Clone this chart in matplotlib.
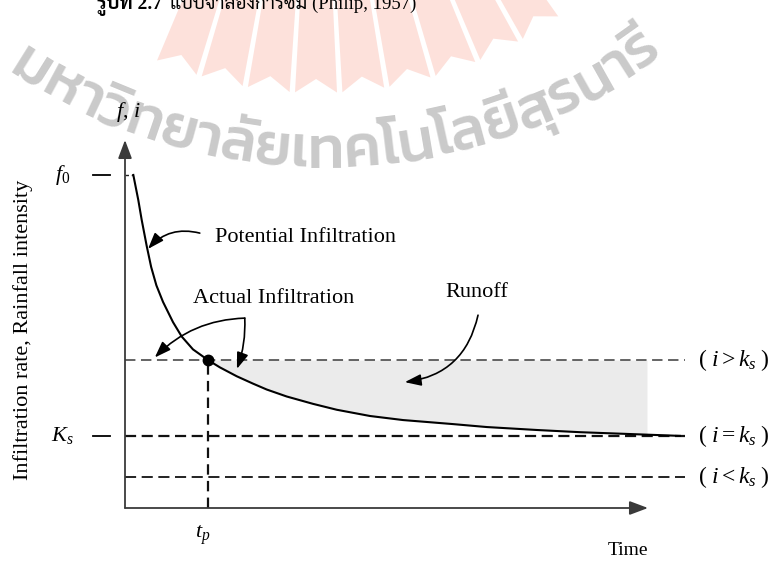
import numpy as np
import matplotlib
matplotlib.use("Agg")
import matplotlib.pyplot as plt
from matplotlib import font_manager
from matplotlib.font_manager import FontProperties
from matplotlib.patches import Polygon
from matplotlib.textpath import TextToPath

# ---------------------------------------------------------------- data
# Potential infiltration capacity f(t) (arbitrary units, time 0-100 on the axis)
time_pts = [1.59, 2.54, 3.19, 4.15, 5.0, 6.0, 7.27, 9.18, 10.84, 13.0, 15.87, 18.16, 21.36,
            24.47, 27.09, 30.92, 35.95, 40.48, 46.85, 53.15, 62.72, 69.16, 78.72, 87.0, 106.1]
f_pts = [90.5, 83.7, 78.3, 71.2, 65.5, 60.5, 56.0, 50.5, 46.6, 43.1, 40.2, 38.2, 35.8,
         33.8, 32.2, 30.3, 28.3, 26.7, 25.0, 23.9, 22.8, 22.0, 21.2, 20.6, 19.6]

f0 = 90.5          # initial infiltration capacity
Ks = 19.6          # saturated hydraulic conductivity
i_high = 40.2      # rainfall intensity above Ks
i_low = 8.4        # rainfall intensity below Ks
t_p = 15.87        # ponding time
runoff_end = 99.8  # end of the shaded runoff area
line_end = 107.1   # right end of the intensity lines

intensity_levels = [i_high, Ks, i_low]
intensity_labels = [r"$(\ i > k_s\;)$", r"$(\ i = k_s\;)$", r"$(\ i < k_s\;)$"]

watermark = "มหาวิทยาลัยเทคโนโลยีสุรนารี"
title_bold = "รูปที่ 2.7"
title_rest = "แบบจำลองการซึม (Philip, 1957)"

# ---------------------------------------------------------------- fonts
installed = {f.name for f in font_manager.fontManager.ttflist}


def first_installed(cands, fallback):
    for c in cands:
        if c in installed:
            return c
    return fallback


thai_sans = first_installed(["Kanit", "Prompt", "Mitr", "Noto Sans Thai", "Athiti"], "DejaVu Sans")
thai_serif = first_installed(["Sarabun", "Noto Serif Thai", "Taviraj", "Trirong"], thai_sans)
serif = "Liberation Serif"

plt.rcParams["lines.scale_dashes"] = False
plt.rcParams["mathtext.fontset"] = "custom"
plt.rcParams["mathtext.rm"] = serif
plt.rcParams["mathtext.it"] = serif + ":italic"
plt.rcParams["font.family"] = [serif, thai_serif]

W, H = 782, 561
fig = plt.figure(figsize=(W / 100, H / 100), dpi=100)

# ---------------------------------------------------------------- background (pixel frame)
bg = fig.add_axes([0, 0, 1, 1], zorder=0)
bg.set_xlim(0, W)
bg.set_ylim(H, 0)
bg.axis("off")

# pink ray emblem
cx, cy = 318.0, -322.0
r_out, notch, r_in = 415.0, 14.0, 250.0
pitch, gap = 6.55, 0.75
for k in range(-2, 7):
    a0 = np.radians(-10.1 + pitch * k + gap / 2)
    a1 = np.radians(-10.1 + pitch * (k + 1) - gap / 2)
    am = 0.5 * (a0 + a1)
    pts = [
        (cx + r_in * np.sin(a0), cy + r_in * np.cos(a0)),
        (cx + r_out * np.sin(a0), cy + r_out * np.cos(a0)),
        (cx + (r_out - notch) * np.sin(am), cy + (r_out - notch) * np.cos(am)),
        (cx + r_out * np.sin(a1), cy + r_out * np.cos(a1)),
        (cx + r_in * np.sin(a1), cy + r_in * np.cos(a1)),
    ]
    bg.add_patch(Polygon(pts, closed=True, fc="#fde1db", ec="none"))

# curved grey university name
combining = set(range(0x0E34, 0x0E3B)) | set(range(0x0E47, 0x0E4F)) | {0x0E31}
clusters = []
for ch in watermark:
    if clusters and ord(ch) in combining:
        clusters[-1] += ch
    else:
        clusters.append(ch)

wweight = "medium"
wprop = FontProperties(family=thai_sans, weight=wweight, size=10)
ttp = TextToPath()
adv = np.array([ttp.get_text_width_height_descent(c, wprop, ismath=False)[0] for c in clusters]) * 100 / 72
tcx, tcy, tR = 324.0, -398.0, 550.0
th_a, th_c = np.radians(-34.5), np.radians(37.5)
span_px = tR * (th_c - th_a) + 0.5 * (adv[0] + adv[-1])
scale = span_px / adv.sum()
wfs = 10 * scale
adv = adv * scale
centers = np.cumsum(adv) - adv / 2
mid = 0.5 * (th_a + th_c)
r_base = tR + 0.26 * wfs * 100 / 72
for c, s in zip(clusters, centers):
    th = mid + (s - adv.sum() / 2) / r_base
    bg.text(tcx + r_base * np.sin(th), tcy + r_base * np.cos(th), c,
            family=thai_sans, weight=wweight, fontsize=wfs, color="#cacaca",
            rotation=np.degrees(th), rotation_mode="anchor", ha="center", va="baseline")

# caption, cut by the top edge
bg.text(97, 9, title_bold, fontsize=14, weight="bold", ha="left", va="baseline",
        family=[serif, thai_serif], zorder=3)
bg.text(170, 9, title_rest, fontsize=13.5, ha="left", va="baseline",
        family=[serif, thai_serif], zorder=3)

# ---------------------------------------------------------------- diagram
L, R_, B, T = 125, 648, 508, 140
ax = fig.add_axes([L / W, 1 - B / H, (R_ - L) / W, (B - T) / H], zorder=1)
ax.set_xlim(0, 100)
ax.set_ylim(0, 100)
ax.axis("off")
ax.patch.set_alpha(0)

t = np.array(time_pts)
f = np.array(f_pts)

# runoff area between rainfall intensity and infiltration capacity
mask = (t >= t_p) & (t <= runoff_end)
xs = np.concatenate([t[mask], [runoff_end]])
ys = np.concatenate([f[mask], [np.interp(runoff_end, t, f)]])
ax.fill_between(xs, ys, i_high, color="#ebebeb", lw=0, zorder=1, clip_on=False)

# axes with arrow heads
for end in [(100, 0), (0, 100)]:
    ax.annotate("", xy=end, xytext=(0, 0), annotation_clip=False,
                arrowprops=dict(arrowstyle="-|>,head_length=0.8,head_width=0.3", lw=1.3,
                                color="#3a3a3a", shrinkA=0, shrinkB=0, mutation_scale=14))

# rainfall intensity lines
dash_styles = [dict(lw=1.1, color="#3a3a3a", dashes=(7.5, 4)),
               dict(lw=1.6, color="#111111", dashes=(8, 4)),
               dict(lw=1.4, color="#222222", dashes=(8, 4))]
for lvl, st, lab in zip(intensity_levels, dash_styles, intensity_labels):
    ax.plot([0, line_end], [lvl, lvl], clip_on=False, zorder=2, **st)
    ax.text(line_end + 2.4, lvl, lab, fontsize=17, ha="left", va="center")

# ponding time
ax.plot([t_p, t_p], [0, i_high], color="#111111", lw=1.6, dashes=(7.5, 4.5), zorder=2)

# infiltration capacity curve
ax.plot([0, t[0]], [f0, f0], color="#222222", lw=1.0, dashes=(2.5, 2), clip_on=False)
ax.plot(t, f, color="black", lw=1.5, clip_on=False, zorder=3, solid_joinstyle="round")
ax.plot([t_p], [i_high], "o", color="black", ms=7.5, zorder=4)

# left tick marks and labels
for lvl, lab in [(f0, r"$f_0$"), (Ks, r"$K_s$")]:
    ax.plot([-6.1, -2.9], [lvl, lvl], color="black", lw=1.3, clip_on=False)
    ax.text(-11.9, lvl, lab, fontsize=16, ha="center", va="center")

ax.text(0.6, 107.5, r"$f,\, i$", fontsize=16, ha="center", va="center")
ax.text(14.9, -7.3, r"$t_p$", fontsize=16, ha="center", va="center")
ax.text(96.2, -11.6, "Time", fontsize=14, ha="center", va="center")
ax.text(-19.5, 48.4, "Infiltration rate, Rainfall intensity", fontsize=16,
        rotation=90, ha="center", va="center")

ax.text(17.2, 73.4, "Potential Infiltration", fontsize=16, ha="left", va="center")
ax.text(13.0, 56.8, "Actual Infiltration", fontsize=16, ha="left", va="center")
ax.text(67.3, 58.6, "Runoff", fontsize=16, ha="center", va="center")

arrow_kw = dict(arrowstyle="-|>,head_length=0.7,head_width=0.25", lw=1.2, color="black",
                shrinkA=0, shrinkB=0, mutation_scale=14)
ax.annotate("", xy=(4.4, 70.4), xytext=(14.3, 74.7), annotation_clip=False,
            arrowprops=dict(connectionstyle="arc3,rad=0.3", **arrow_kw))
ax.annotate("", xy=(5.7, 40.9), xytext=(22.9, 51.6), annotation_clip=False,
            arrowprops=dict(connectionstyle="arc3,rad=0.2", **arrow_kw))
ax.annotate("", xy=(21.4, 37.8), xytext=(22.9, 51.6), annotation_clip=False,
            arrowprops=dict(connectionstyle="arc3,rad=-0.1", **arrow_kw))
ax.annotate("", xy=(53.5, 34.2), xytext=(67.5, 52.4), annotation_clip=False,
            arrowprops=dict(connectionstyle="arc3,rad=-0.35", **arrow_kw))

fig.savefig("out.png", dpi=100)
